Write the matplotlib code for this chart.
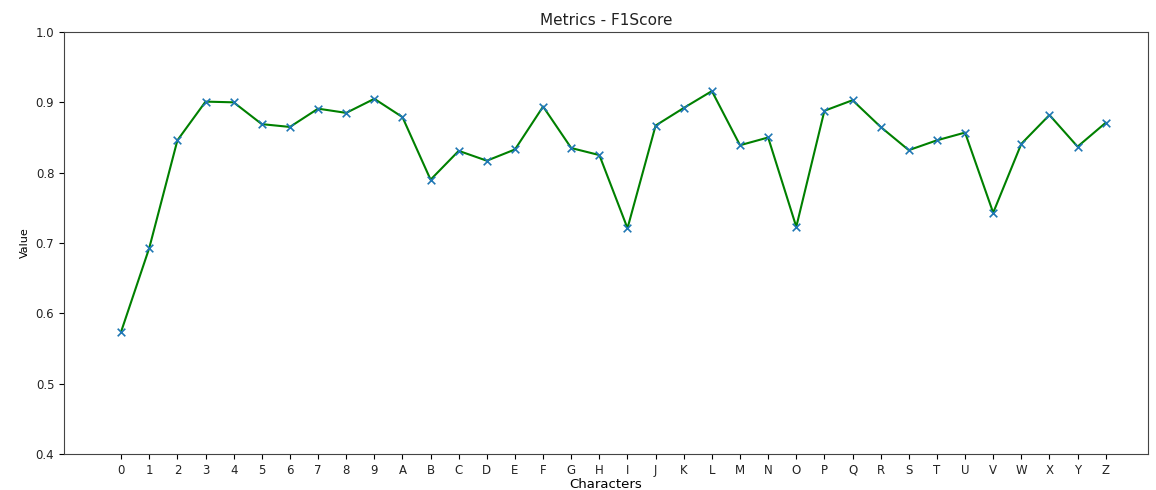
import matplotlib
matplotlib.use('Agg')
import matplotlib.pyplot as plt

characters = ['0', '1', '2', '3', '4', '5', '6', '7', '8', '9',
              'A', 'B', 'C', 'D', 'E', 'F', 'G', 'H', 'I', 'J', 'K', 'L', 'M',
              'N', 'O', 'P', 'Q', 'R', 'S', 'T', 'U', 'V', 'W', 'X', 'Y', 'Z']
f1_scores = [0.574, 0.693, 0.846, 0.901, 0.900, 0.869, 0.865, 0.891, 0.885, 0.905,
             0.879, 0.790, 0.831, 0.817, 0.833, 0.894, 0.835, 0.825, 0.721, 0.867,
             0.892, 0.916, 0.839, 0.850, 0.723, 0.888, 0.903, 0.865, 0.832, 0.846,
             0.857, 0.743, 0.841, 0.882, 0.837, 0.871]

plt.rcParams['font.size'] = 8.5
plt.rcParams['text.color'] = '#222222'
plt.rcParams['xtick.labelcolor'] = '#222222'
plt.rcParams['ytick.labelcolor'] = '#222222'

fig = plt.figure(figsize=(11.56, 4.9), dpi=100)
ax = fig.add_axes([0.0554, 0.0735, 0.9376, 0.8612])

x = list(range(len(characters)))
ax.plot(x, f1_scores, color='green', linewidth=1.5)
ax.scatter(x, f1_scores, marker='x', color='tab:blue', s=30, linewidths=1.2, zorder=3)

ax.set_xticks(x)
ax.set_xticklabels(characters)
ax.set_xlim(-2.03, 36.5)
ax.set_ylim(0.4, 1.0)
ax.set_title('Metrics - F1Score', fontsize=11, pad=5)
ax.set_xlabel('Characters', fontsize=9.5, labelpad=1)
ax.set_ylabel('Value', fontsize=8)

for spine in ax.spines.values():
    spine.set_color('#444444')

fig.savefig('out.png', dpi=100)
